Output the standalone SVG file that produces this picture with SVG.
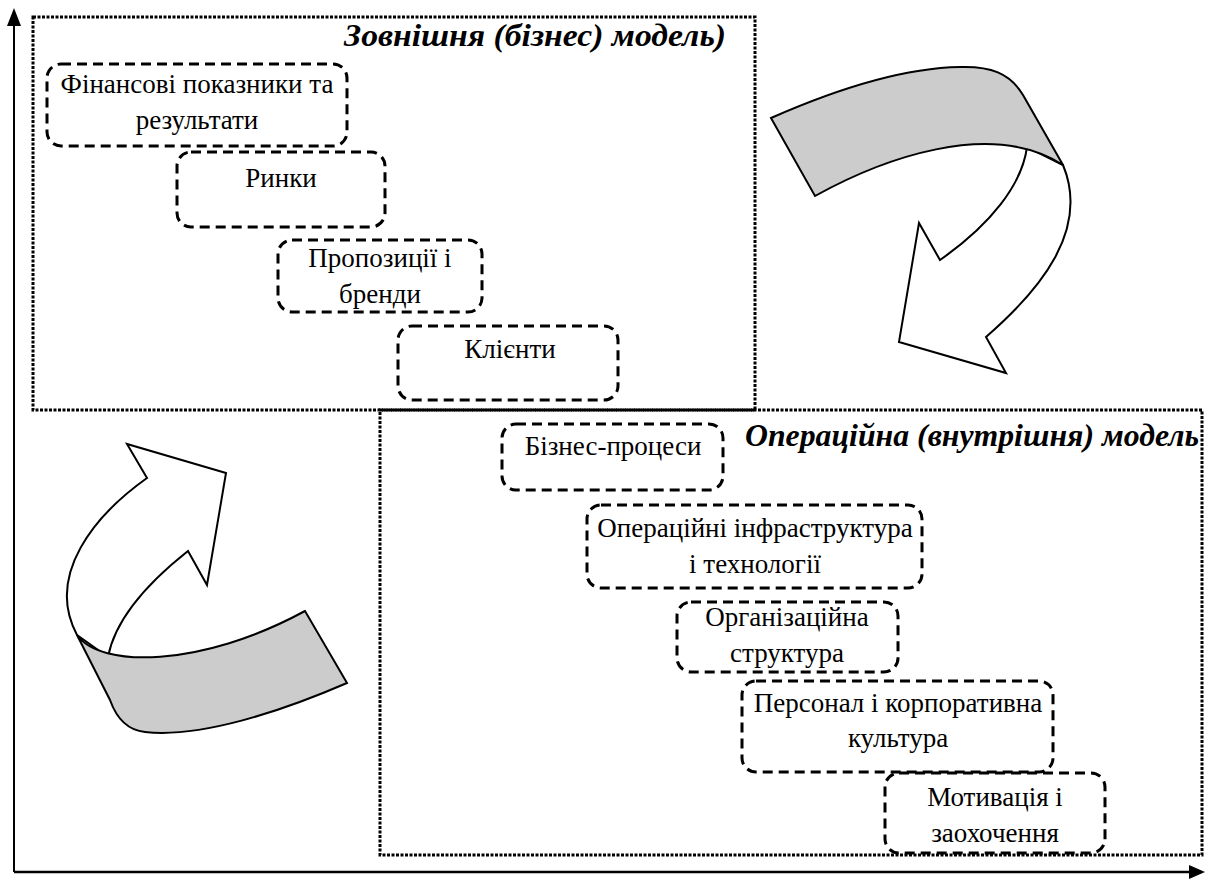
<svg xmlns="http://www.w3.org/2000/svg" width="1206" height="879" viewBox="0 0 1206 879">
<style>
.dot{fill:none;stroke:#000;stroke-width:3;stroke-dasharray:3 1.5}
.box{fill:none;stroke:#000;stroke-width:3;stroke-dasharray:10 6}
.t{font-family:'Liberation Serif','Times New Roman','DejaVu Serif',serif;font-size:27px;fill:#000;text-anchor:middle}
.title{font-family:'Liberation Serif','Times New Roman','DejaVu Serif',serif;font-size:32px;font-weight:bold;font-style:italic;fill:#000;text-anchor:end}
.ar{stroke:#000;stroke-width:2;stroke-linejoin:miter}
</style>
<rect width="1206" height="879" fill="#fff"/>
<g id="axes">
<line x1="14" y1="872" x2="14" y2="22" stroke="#000" stroke-width="2"/>
<polygon points="14,8 7,26 21,26" fill="#000"/>
<line x1="14" y1="872" x2="1192" y2="872" stroke="#000" stroke-width="2.5"/>
<polygon points="1205,872 1189,865 1189,879" fill="#000"/>
</g>
<g id="external-model">
<rect class="dot" x="33" y="17" width="722" height="393"/>
<text class="title" x="726" y="46" textLength="382" lengthAdjust="spacingAndGlyphs">Зовнішня (бізнес) модель)</text>
</g>
<g id="operational-model">
<rect class="dot" x="380" y="410" width="822" height="445"/>
<text class="title" x="1199" y="446" textLength="454" lengthAdjust="spacingAndGlyphs">Операційна (внутрішня) модель</text>
</g>
<g id="n1"><rect class="box" x="47" y="64" width="300" height="82" rx="14"/><text class="t" x="197" y="93">Фінансові показники та</text><text class="t" x="197" y="129">результати</text></g>
<g id="n2"><rect class="box" x="177" y="152" width="208" height="75" rx="14"/><text class="t" x="281" y="187">Ринки</text></g>
<g id="n3"><rect class="box" x="278" y="240" width="204" height="72" rx="14"/><text class="t" x="380" y="267">Пропозиції і</text><text class="t" x="380" y="303">бренди</text></g>
<g id="n4"><rect class="box" x="398" y="326" width="220" height="74" rx="14"/><text class="t" x="510" y="358">Клієнти</text></g>
<g id="n5"><rect class="box" x="502" y="424" width="221" height="66" rx="14"/><text class="t" x="613" y="455">Бізнес-процеси</text></g>
<g id="n6"><rect class="box" x="587" y="505" width="335" height="83" rx="14"/><text class="t" x="755" y="537">Операційні інфраструктура</text><text class="t" x="755" y="573">і технології</text></g>
<g id="n7"><rect class="box" x="677" y="602" width="221" height="70" rx="14"/><text class="t" x="787" y="626">Організаційна</text><text class="t" x="787" y="662">структура</text></g>
<g id="n8"><rect class="box" x="742" y="681" width="311" height="91" rx="14"/><text class="t" x="898" y="712">Персонал і корпоративна</text><text class="t" x="898" y="747">культура</text></g>
<g id="n9"><rect class="box" x="885" y="773" width="220" height="80" rx="14"/><text class="t" x="995" y="806">Мотивація і</text><text class="t" x="995" y="842">заохочення</text></g>
<g id="arrow-down">
<path class="ar" fill="#fff" d="M 1027,147 C 1022,185 990,225 940,260 L 919,223 L 899,342 L 1006,373 L 986,337 C 1040,290 1090,230 1063,165 Z"/>
<path class="ar" fill="#ccc" d="M 771,118 L 815,196 C 880,160 990,118 1063,165 L 1023,95 C 1010,73 990,66 960,67 C 900,68 830,92 771,118 Z"/>
</g>
<g id="arrow-up">
<path class="ar" fill="#fff" d="M 77,635 C 45,575 95,515 147,478 L 127,444 L 226,473 L 207,585 L 188,551 C 145,585 115,620 108,657 Z"/>
<path class="ar" fill="#ccc" d="M 77,635 C 100,668 200,668 305,611 L 347,683 C 280,712 200,738 145,732 C 125,730 115,714 110,700 Z"/>
</g>
</svg>
